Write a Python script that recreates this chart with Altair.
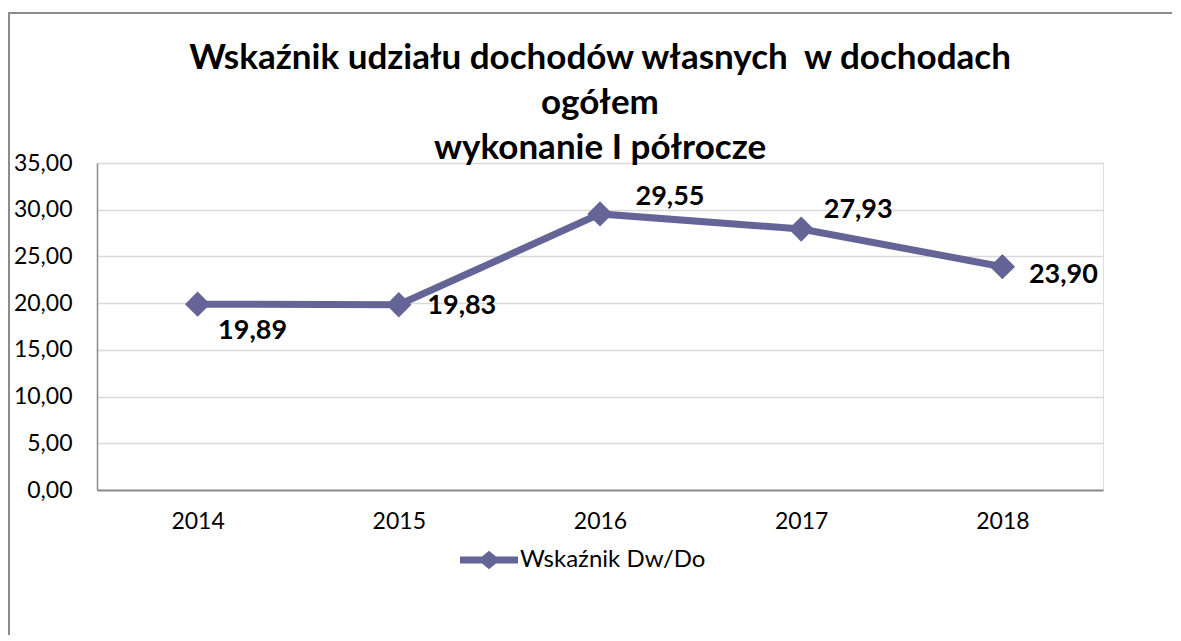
import altair as alt
import pandas as pd

years = ["2014", "2015", "2016", "2017", "2018"]
values = [19.89, 19.83, 29.55, 27.93, 23.90]
series_name = "Wskaźnik Dw/Do"
title_lines = ["Wskaźnik udziału dochodów własnych\u00a0 w dochodach", "ogółem", "wykonanie I półrocze"]
y_ticks = [0, 5, 10, 15, 20, 25, 30, 35]

# label offsets (style, per point)
label_dx = [55, 63, 70, 57, 61]
label_dy = [27, 1, -17, -19, 8]
title_y = [-105, -60, -15]

FONT = "Lato"
COLOR = "#646497"

df = pd.DataFrame({"year": years, "value": values, "series": [series_name] * len(years)})

W, H = 1006, 327

x_enc = alt.X("year:N", sort=years, title=None,
              scale=alt.Scale(type="point", padding=0.5),
              axis=alt.Axis(labelAngle=0, labelFontSize=23, labelFont=FONT, labelColor="#000",
                            labelPadding=20, ticks=False, domainColor="#8c8c8c", domainWidth=2,
                            grid=False))
y_enc = alt.Y("value:Q", title=None,
              scale=alt.Scale(domain=[0, 35], nice=False, zero=True),
              axis=alt.Axis(values=y_ticks, labelFontSize=23, labelFont=FONT, labelColor="#000",
                            labelPadding=25, ticks=False, domainColor="#8c8c8c", domainWidth=1.5,
                            gridColor="#d9d9d9", gridWidth=1.5,
                            labelExpr="replace(format(datum.value, '.2f'), '.', ',')"))

base = alt.Chart(df)

border = alt.Chart(pd.DataFrame({"a": [0]})).mark_rect(
    fill=None, stroke="#8c8c8c", strokeWidth=2, clip=False
).encode(x=alt.value(-88), x2=alt.value(1200), y=alt.value(-150), y2=alt.value(700))

titles = [
    alt.Chart(pd.DataFrame({"t": [t]})).mark_text(
        fontSize=35, fontWeight="bold", font=FONT, color="#000",
        align="center", baseline="middle", clip=False
    ).encode(x=alt.value(W / 2), y=alt.value(title_y[i]), text="t:N")
    for i, t in enumerate(title_lines)
]

line = base.mark_line(color=COLOR, strokeWidth=7).encode(x=x_enc, y=y_enc)

points = base.mark_point(shape="diamond", filled=True, size=640, opacity=1).encode(
    x=alt.X("year:N", sort=years),
    y="value:Q",
    color=alt.Color("series:N", scale=alt.Scale(range=[COLOR]), title=None,
                    legend=alt.Legend(orient="none", legendX=363, legendY=368,
                                      padding=0, labelFontSize=24, labelFont=FONT,
                                      labelColor="#000", labelOffset=2, labelLimit=400,
                                      symbolType="M-1,-0.12L-0.24,-0.12L0,-0.32L0.24,-0.12L1,-0.12L1,0.12L0.24,0.12L0,0.32L-0.24,0.12L-1,0.12Z",
                                      symbolSize=3364, symbolStrokeWidth=0,
                                      symbolFillColor=COLOR, symbolOpacity=1)),
)

labels = []
for i, yr in enumerate(years):
    labels.append(
        base.transform_filter(alt.datum.year == yr)
        .transform_calculate(lab="replace(format(datum.value, '.2f'), '.', ',')")
        .mark_text(fontSize=27, fontWeight="bold", font=FONT, color="#000",
                   align="center", baseline="middle", dx=label_dx[i], dy=label_dy[i])
        .encode(x=alt.X("year:N", sort=years), y="value:Q", text="lab:N")
    )

chart = alt.layer(border, *titles, line, points, *labels).properties(
    width=W, height=H,
    autosize=alt.AutoSizeParams(type="none"),
    padding={"left": 89, "top": 155, "right": 69, "bottom": 145},
).configure_view(fill="#f0f0f0", stroke=None).configure(background="#ffffff")

chart.save("out.html", embed_options={"renderer": "svg", "actions": False})
